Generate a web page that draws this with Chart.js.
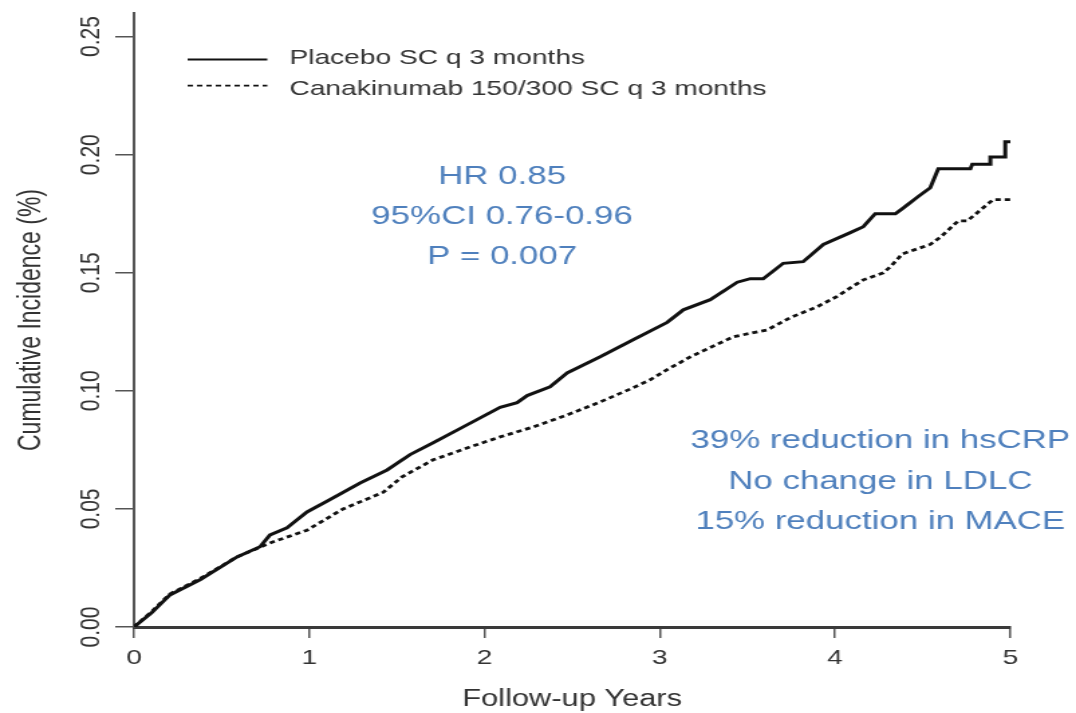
<!DOCTYPE html>
<html>
<head>
<meta charset="utf-8">
<script src="https://cdn.jsdelivr.net/npm/chart.js@4.4.1/dist/chart.umd.min.js"></script>
<style>
html,body{margin:0;padding:0;background:#fff;overflow:hidden}
</style>
</head>
<body>
<canvas id="c" width="803" height="713" style="display:block;width:1076px;height:713px"></canvas>
<script>
// ---- data ----
const placeboYears  = [0, 0.10, 0.205, 0.377, 0.588, 0.719, 0.776, 0.873, 0.987, 1.119, 1.29, 1.444, 1.575, 1.707, 1.90, 2.089, 2.186, 2.243, 2.374, 2.471, 2.66, 2.848, 3.042, 3.134, 3.288, 3.442, 3.516, 3.59, 3.704, 3.818, 3.933, 4.087, 4.161, 4.229, 4.344, 4.39, 4.469, 4.543, 4.589, 4.772, 4.783, 4.886, 4.886, 4.971, 4.971, 5.0];
const placeboValues = [0, 0.006, 0.0136, 0.020, 0.0297, 0.034, 0.039, 0.042, 0.0487, 0.054, 0.061, 0.0665, 0.073, 0.078, 0.0856, 0.093, 0.095, 0.098, 0.1017, 0.1076, 0.1144, 0.1216, 0.129, 0.1343, 0.1386, 0.146, 0.1475, 0.1475, 0.154, 0.1547, 0.162, 0.167, 0.1695, 0.175, 0.175, 0.1775, 0.182, 0.186, 0.194, 0.194, 0.196, 0.196, 0.199, 0.199, 0.2055, 0.2055];
const canaYears  = [0, 0.10, 0.205, 0.377, 0.588, 0.776, 0.987, 1.193, 1.421, 1.53, 1.707, 1.90, 2.089, 2.277, 2.471, 2.66, 2.848, 2.945, 3.042, 3.116, 3.174, 3.419, 3.613, 3.744, 3.898, 4.012, 4.087, 4.161, 4.275, 4.315, 4.384, 4.543, 4.60, 4.703, 4.755, 4.869, 4.903, 5.0];
const canaValues = [0, 0.0065, 0.014, 0.0205, 0.0297, 0.0356, 0.041, 0.050, 0.057, 0.0636, 0.0708, 0.0758, 0.0805, 0.0847, 0.0898, 0.0953, 0.1013, 0.1047, 0.109, 0.112, 0.1144, 0.1229, 0.1258, 0.131, 0.1356, 0.140, 0.1436, 0.147, 0.150, 0.1525, 0.158, 0.162, 0.165, 0.172, 0.172, 0.179, 0.181, 0.181];
const seriesLabels = ['Placebo SC q 3 months', 'Canakinumab 150/300 SC q 3 months'];
const xTickValues = [0, 1, 2, 3, 4, 5];
const yTickValues = [0, 0.05, 0.10, 0.15, 0.20, 0.25];
const xTitle = 'Follow-up Years';
const yTitle = 'Cumulative Incidence (%)';
const statsText = ['HR 0.85', '95%CI 0.76-0.96', 'P = 0.007'];
const statsAnchor = [2.1, [0.1907, 0.1737, 0.1568]];
const notesText = ['39% reduction in hsCRP', 'No change in LDLC', '15% reduction in MACE'];
const notesAnchor = [4.258, [0.0788, 0.0614, 0.0445]];

const FONT = "'Liberation Sans', Arial, Helvetica, sans-serif";
const BLUE = '#4f80bd';
const INK = '#111';

const toPoints = (xs, ys) => xs.map((x, i) => ({x: x, y: ys[i]}));

const overlay = {
  id: 'overlay',
  afterDraw(chart) {
    const ctx = chart.ctx;
    const xs = chart.scales.x, ys = chart.scales.y;
    const ca = chart.chartArea;
    // y tick labels, rotated (R style)
    ctx.save();
    ctx.font = '21px ' + FONT;
    ctx.fillStyle = '#333';
    ctx.textAlign = 'center';
    ctx.textBaseline = 'middle';
    ys.ticks.forEach((t, i) => {
      const py = ys.getPixelForTick(i);
      ctx.save();
      ctx.translate(ca.left - 32.5, py);
      ctx.rotate(-Math.PI / 2);
      ctx.fillText(t.label, 0, 1);
      ctx.restore();
    });
    ctx.restore();

    // legend
    const base = ys.getPixelForValue(yTickValues[yTickValues.length - 1]);
    ctx.save();
    chart.data.datasets.forEach((ds, i) => {
      const ly = base + 23 + i * 26;
      const ty = base + 22 + i * 31;
      ctx.beginPath();
      ctx.strokeStyle = INK;
      ctx.lineWidth = i === 0 ? 2 : 1.8;
      ctx.setLineDash(ds.borderDash || []);
      ctx.moveTo(ca.left + 40, ly);
      ctx.lineTo(ca.left + 99.5, ly);
      ctx.stroke();
      ctx.setLineDash([]);
      ctx.font = '21px ' + FONT;
      ctx.fillStyle = '#333';
      ctx.textAlign = 'left';
      ctx.textBaseline = 'middle';
      ctx.fillText(ds.label, ca.left + 116, ty);
    });
    ctx.restore();

    // blue annotations
    ctx.save();
    ctx.font = '26px ' + FONT;
    ctx.fillStyle = BLUE;
    ctx.textAlign = 'center';
    ctx.textBaseline = 'middle';
    statsText.forEach((s, i) => {
      ctx.fillText(s, xs.getPixelForValue(statsAnchor[0]), ys.getPixelForValue(statsAnchor[1][i]));
    });
    notesText.forEach((s, i) => {
      ctx.fillText(s, xs.getPixelForValue(notesAnchor[0]), ys.getPixelForValue(notesAnchor[1][i]));
    });
    ctx.restore();
  }
};

new Chart(document.getElementById('c'), {
  type: 'line',
  data: {
    datasets: [
      {label: seriesLabels[0], data: toPoints(placeboYears, placeboValues), borderColor: INK, borderWidth: 3, pointRadius: 0, tension: 0, fill: false},
      {label: seriesLabels[1], data: toPoints(canaYears, canaValues), borderColor: INK, borderWidth: 2.8, borderDash: [4, 3], pointRadius: 0, tension: 0, fill: false}
    ]
  },
  options: {
    responsive: false,
    animation: false,
    devicePixelRatio: 1,
    layout: {padding: {top: 13, right: 49, left: 0, bottom: 0}},
    plugins: {legend: {display: false}, tooltip: {enabled: false}},
    scales: {
      x: {
        type: 'linear', min: 0, max: 5,
        afterBuildTicks: s => { s.ticks = xTickValues.map(v => ({value: v})); },
        ticks: {font: {family: FONT, size: 21}, color: '#333', padding: 8, maxRotation: 0, autoSkip: false, callback: v => String(v)},
        grid: {display: true, drawOnChartArea: false, drawTicks: true, tickLength: 11, color: '#555', lineWidth: 1.5},
        border: {display: true, color: '#3a3a3a', width: 3},
        title: {display: true, text: xTitle, font: {family: FONT, size: 23}, color: '#333', padding: {top: 0, bottom: 0}},
        afterFit: s => { s.height = 86; }
      },
      y: {
        type: 'linear', min: 0, max: 0.26,
        afterBuildTicks: s => { s.ticks = yTickValues.map(v => ({value: v})); },
        ticks: {display: false, callback: v => v.toFixed(2)},
        grid: {display: true, drawOnChartArea: false, drawTicks: true, tickLength: 14, color: '#555', lineWidth: 1.5},
        border: {display: true, color: '#555', width: 2},
        title: {display: true, text: yTitle, font: {family: FONT, size: 23}, color: '#333', padding: {top: 10, bottom: 0}},
        afterFit: s => { s.width = 100; }
      }
    }
  },
  plugins: [overlay]
});
</script>
</body>
</html>
